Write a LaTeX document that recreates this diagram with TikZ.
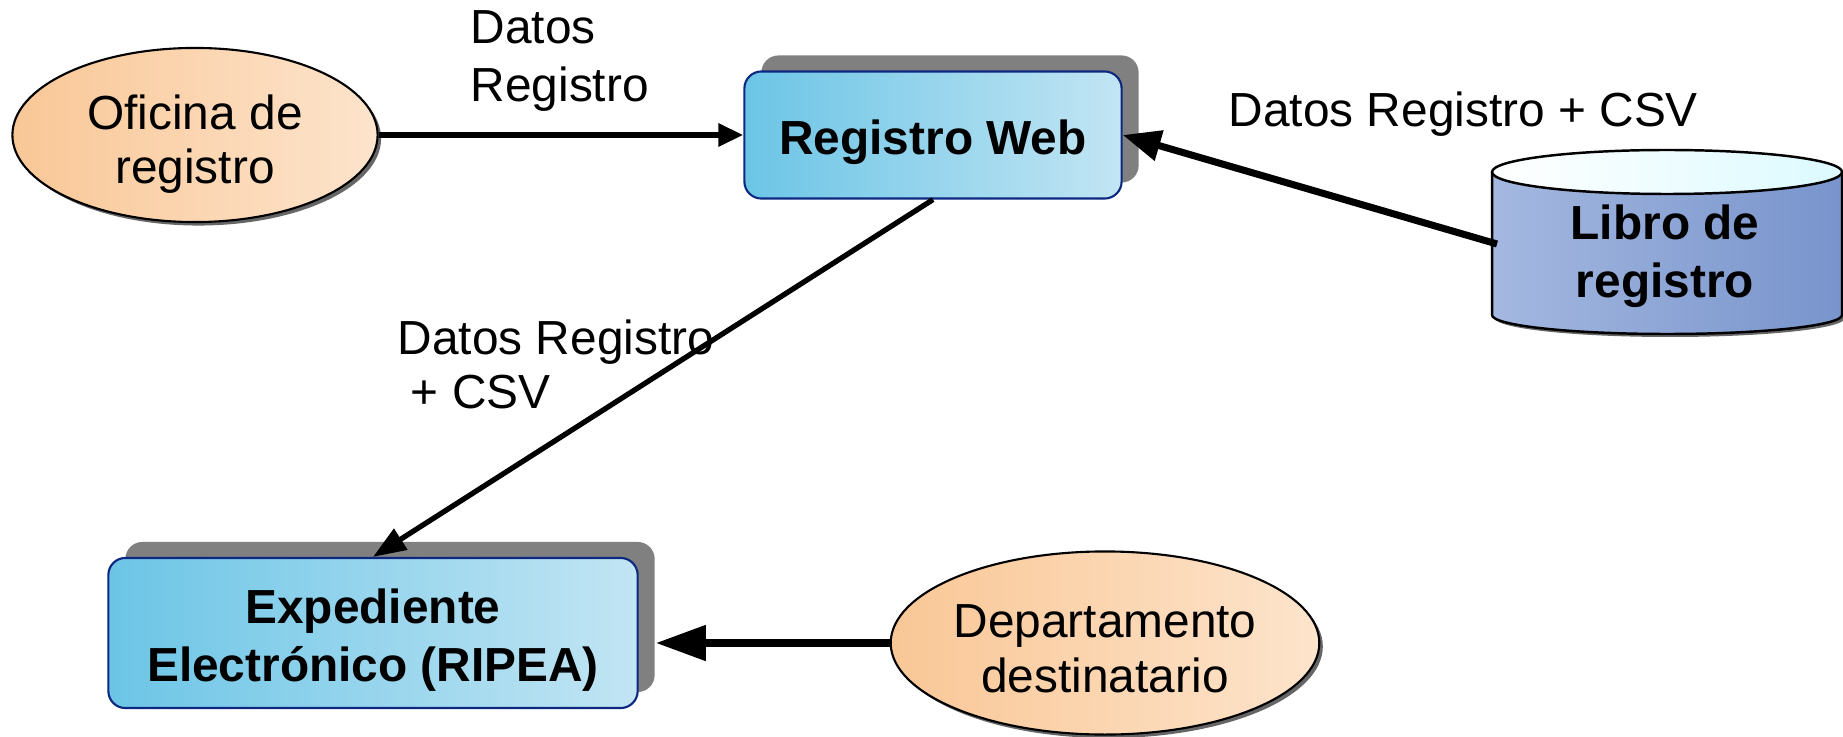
\documentclass[tikz,border=0pt]{standalone}
\usepackage{fontspec}
\setmainfont{Liberation Sans}
\usetikzlibrary{shapes.geometric,shadows,arrows.meta}

\definecolor{peach}{RGB}{249,199,150}
\definecolor{peachlight}{RGB}{253,228,204}
\definecolor{skyblue}{RGB}{108,197,230}
\definecolor{skylight}{RGB}{194,229,243}
\definecolor{navy}{RGB}{12,40,128}
\definecolor{dbside}{RGB}{164,184,224}
\definecolor{dbsidedark}{RGB}{120,148,204}
\definecolor{dbtop}{RGB}{220,250,255}

\newcommand{\diagfont}{\fontsize{13.6}{15.4}\selectfont}
\newcommand{\boldfont}{\fontsize{13.6}{16.6}\selectfont\bfseries}
\newcommand{\lift}[1]{\rule{0pt}{#1}}

\tikzset{
  actor/.style={ellipse, draw=black, line width=0.6pt, left color=peach, right color=peachlight,
    align=center, inner sep=0pt, font=\diagfont,
    drop shadow={shadow xshift=0.035cm, shadow yshift=-0.035cm, fill=black!60, opacity=1}},
  system/.style={rectangle, rounded corners=0.17cm, draw=navy, line width=0.6pt,
    left color=skyblue, right color=skylight, align=center, inner sep=0pt, font=\boldfont,
    drop shadow={shadow xshift=0.17cm, shadow yshift=0.16cm, fill=black!50, opacity=1}},
  lbl/.style={align=left, inner sep=0pt, font=\diagfont},
  flow/.style={line width=1.7pt, -{Triangle[length=0.25cm, width=0.22cm]}}
}

\begin{document}
\begin{tikzpicture}[x=0.01cm, y=-0.01cm]
\useasboundingbox (0,0) rectangle (1843,737);

% actors and systems
\node[actor, minimum width=3.65cm, minimum height=1.74cm] (ofi) at (195,135) {\lift{1.09em}Oficina de\\registro};
\node[system, minimum width=3.77cm, minimum height=1.27cm] (web) at (933,135) {\lift{1.03em}Registro Web};
\node[system, minimum width=5.29cm, minimum height=1.50cm] (exp) at (373,633) {\lift{1.02em}Expediente\\Electr\'onico (RIPEA)};
\node[actor, minimum width=4.18cm, minimum height=1.83cm] (dep) at (1105,643) {\lift{0.93em}Departamento\\destinatario};

% libro de registro (cylinder)
\fill[black!60] (1495,175) -- (1495,318) arc[start angle=180, end angle=0, x radius=175, y radius=19] -- (1845,175) -- cycle;
\shade[left color=dbside, right color=dbsidedark] (1492,172) -- (1492,315) arc[start angle=180, end angle=0, x radius=175, y radius=19] -- (1842,172) -- cycle;
\draw[line width=0.7pt] (1492,172) -- (1492,315) arc[start angle=180, end angle=0, x radius=175, y radius=19] -- (1842,172);
\shade[left color=white, right color=dbtop, draw=black, line width=0.7pt] (1667,172) ellipse[x radius=175, y radius=22];
\node[lbl, align=center, font=\boldfont] (libro) at (1665,256) {Libro de\\registro};
\coordinate (libroin) at (1497,244);

% shadow edge of the expediente box
\coordinate (expr) at ([xshift=0.17cm]exp.east);

% connectors
\draw[flow] (ofi) -- (web);
\draw[flow, line width=1.5pt, -{Triangle[length=0.33cm, width=0.24cm]}] (web.south) -- (exp.north);
\draw[flow, line width=2pt, -{Triangle[length=0.38cm, width=0.3cm]}] (libroin) -- (web.east);
\draw[flow, line width=2.2pt, -{Triangle[length=0.5cm, width=0.34cm]}] (dep.west) -- (dep.west -| expr);

% labels
\node[lbl, anchor=west, font=\fontsize{13.6}{16.5}\selectfont] (lbofi) at (470,61) {Datos\\Registro};
\node[lbl, anchor=base west] (lblibro) at (1228,127) {Datos Registro + CSV};
\node[lbl, anchor=west] (lbexp) at (397,364) {Datos Registro\\\mbox{} + CSV};
\end{tikzpicture}
\end{document}
